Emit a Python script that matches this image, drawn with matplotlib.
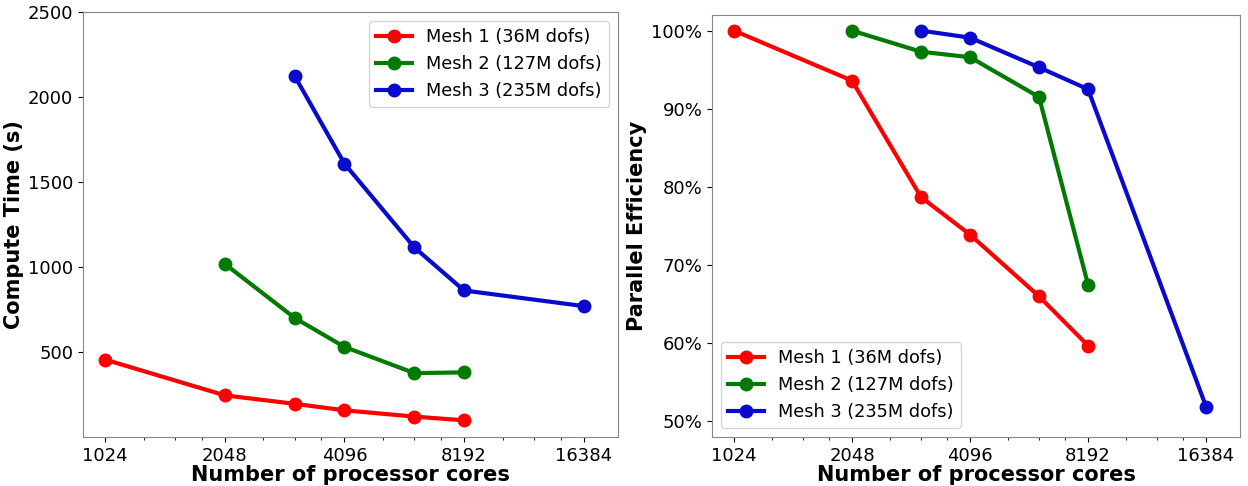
import matplotlib
matplotlib.use("Agg")
import matplotlib.pyplot as plt
from matplotlib.ticker import FixedLocator, FixedFormatter, LogLocator, NullFormatter, FuncFormatter

# Core counts per mesh
cores_mesh1 = [1024, 2048, 3072, 4096, 6144, 8192]
cores_mesh2 = [2048, 3072, 4096, 6144, 8192]
cores_mesh3 = [3072, 4096, 6144, 8192, 16384]

# Compute time (s)
time_mesh1 = [455, 245, 195, 157, 120, 98]
time_mesh2 = [1018, 700, 530, 376, 380]
time_mesh3 = [2122, 1608, 1115, 862, 770]

# Parallel efficiency (fraction)
eff_mesh1 = [1.000, 0.936, 0.787, 0.739, 0.660, 0.597]
eff_mesh2 = [1.000, 0.973, 0.966, 0.915, 0.675]
eff_mesh3 = [1.000, 0.991, 0.953, 0.925, 0.519]

labels = ["Mesh 1 (36M dofs)", "Mesh 2 (127M dofs)", "Mesh 3 (235M dofs)"]
colors = ["#ff0000", "#007a00", "#0a0acd"]
xticks = [1024, 2048, 4096, 8192, 16384]

fig = plt.figure(figsize=(12.48, 4.86), dpi=100)
ax1 = fig.add_axes([83 / 1248, 49 / 486, 535 / 1248, 425 / 486])
ax2 = fig.add_axes([712 / 1248, 49 / 486, 528 / 1248, 422 / 486])

series_t = [(cores_mesh1, time_mesh1), (cores_mesh2, time_mesh2), (cores_mesh3, time_mesh3)]
series_e = [(cores_mesh1, eff_mesh1), (cores_mesh2, eff_mesh2), (cores_mesh3, eff_mesh3)]

for ax, series in ((ax1, series_t), (ax2, series_e)):
    for (x, y), lab, c in zip(series, labels, colors):
        ax.plot(x, y, "-o", color=c, lw=3, ms=9, label=lab)
    ax.set_xscale("log", base=2)
    ax.set_xlim(900, 20000)
    ax.xaxis.set_major_locator(FixedLocator(xticks))
    ax.xaxis.set_major_formatter(FixedFormatter([str(t) for t in xticks]))
    ax.xaxis.set_minor_locator(LogLocator(base=2, subs=[1.25, 1.5, 1.75]))
    ax.xaxis.set_minor_formatter(NullFormatter())
    ax.tick_params(labelsize=13)
    ax.set_xlabel("Number of processor cores", fontsize=15, fontweight="bold", labelpad=0)
    for s in ax.spines.values():
        s.set_color("#888888")

ax1.set_ylim(0, 2500)
ax1.set_yticks([500, 1000, 1500, 2000, 2500])
ax1.set_ylabel("Compute Time (s)", fontsize=15, fontweight="bold", labelpad=3)
ax1.legend(loc="upper right", fontsize=12.8)

ax2.set_ylim(0.48, 1.02)
ax2.set_yticks([0.5, 0.6, 0.7, 0.8, 0.9, 1.0])
ax2.yaxis.set_major_formatter(FuncFormatter(lambda v, p: f"{v * 100:.0f}%"))
ax2.set_ylabel("Parallel Efficiency", fontsize=15, fontweight="bold", labelpad=3)
ax2.legend(loc="lower left", fontsize=12.8)

fig.savefig("out.png", dpi=100)
